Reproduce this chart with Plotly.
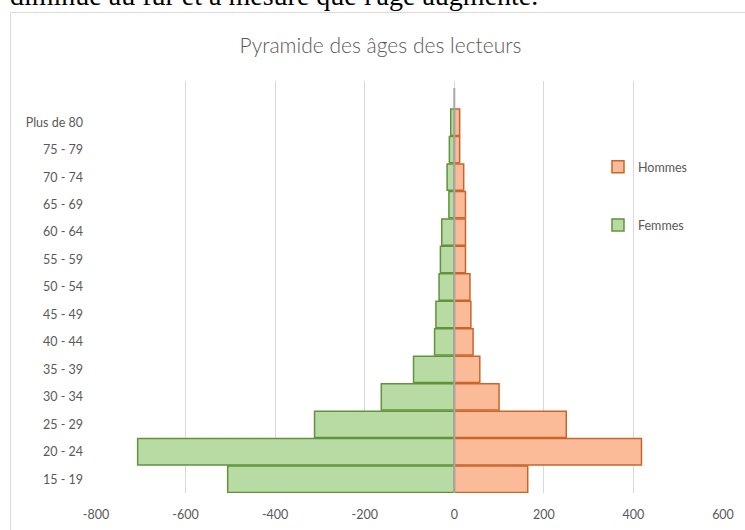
import plotly.graph_objects as go

categories = ["15 - 19", "20 - 24", "25 - 29", "30 - 34", "35 - 39", "40 - 44",
              "45 - 49", "50 - 54", "55 - 59", "60 - 64", "65 - 69", "70 - 74",
              "75 - 79", "Plus de 80"]
hommes = [164, 418, 250, 100, 57, 42, 37, 35, 25, 25, 25, 21, 12, 12]
femmes = [-506, -707, -312, -163, -91, -44, -41, -34, -31, -28, -12, -16, -11, -8]
x_ticks = [-800, -600, -400, -200, 0, 200, 400, 600]
x_tick_labels = ["-800", "-600", "-400", "-200", "0", "200", "400", "600"]

W, H = 745, 530
L, R, T, B = 96, 22, 81, 37
pw, ph = W - L - R, H - T - B

def px_x(p):
    return (p - L) / pw

def px_y(p):
    return (H - B - p) / ph

gray = "#595959"
font = "Lato"

fig = go.Figure()
fig.add_trace(go.Bar(
    y=categories, x=hommes, orientation="h", name="Hommes", legendgroup="h",
    marker=dict(color="#fbbb99", line=dict(color="#c8662a", width=1.5)),
))
fig.add_trace(go.Bar(
    y=categories, x=femmes, orientation="h", name="Femmes", legendgroup="f",
    marker=dict(color="#b7dba2", line=dict(color="#62923f", width=1.5)),
))

fig.update_layout(
    width=W, height=H,
    margin=dict(l=L, r=R, t=T, b=B, autoexpand=False),
    paper_bgcolor="white", plot_bgcolor="white",
    barmode="relative", bargap=0.04,
    font=dict(family=font, size=12, color=gray),
    title=dict(text="Pyramide des âges des lecteurs", xref="container", yref="container",
               x=380.5 / W, y=1 - 46 / H, xanchor="center", yanchor="middle",
               font=dict(family=font, size=21, color=gray, weight=300)),
    xaxis=dict(range=[-800, 600], tickvals=x_ticks, ticktext=x_tick_labels,
               showgrid=True, gridcolor="#d9d9d9", automargin=False,
               gridwidth=1, zeroline=False, showline=False, ticks="",
               ticklabelstandoff=12, tickfont=dict(size=12.5, color=gray)),
    yaxis=dict(type="category", categoryarray=categories, range=[-0.5, 14.5],
               showgrid=False, zeroline=False, showline=False, ticks="", automargin=False,
               ticklabelstandoff=12, tickfont=dict(size=12.5, color=gray)),
    legend=dict(x=px_x(598), y=px_y(152), xanchor="left", yanchor="top",
                traceorder="grouped", tracegroupgap=39, itemwidth=30,
                font=dict(family=font, size=12.5, color=gray),
                bgcolor="rgba(0,0,0,0)"),
    showlegend=True,
)

# vertical axis line at zero, above bars
fig.add_shape(type="line", xref="x", yref="paper", x0=0, x1=0, y0=0, y1=px_y(88),
              line=dict(color="#a6a6a6", width=2), layer="above")
# chart frame
fig.add_shape(type="rect", xref="paper", yref="paper",
              x0=px_x(10.5), x1=px_x(760), y0=px_y(545), y1=px_y(12.5),
              line=dict(color="#d9d9d9", width=1), fillcolor="rgba(0,0,0,0)", layer="below")
# cut-off document text above the chart
fig.add_annotation(text="diminue au fur et à mesure que l'âge augmente.",
                   xref="paper", yref="paper", x=px_x(8), y=px_y(13),
                   xanchor="left", yanchor="bottom", showarrow=False,
                   font=dict(family="Liberation Serif", size=28, color="black"))

fig.write_html("out.html", config={"displayModeBar": False},
               post_script="document.body.style.margin='0';document.body.style.padding='0';")
